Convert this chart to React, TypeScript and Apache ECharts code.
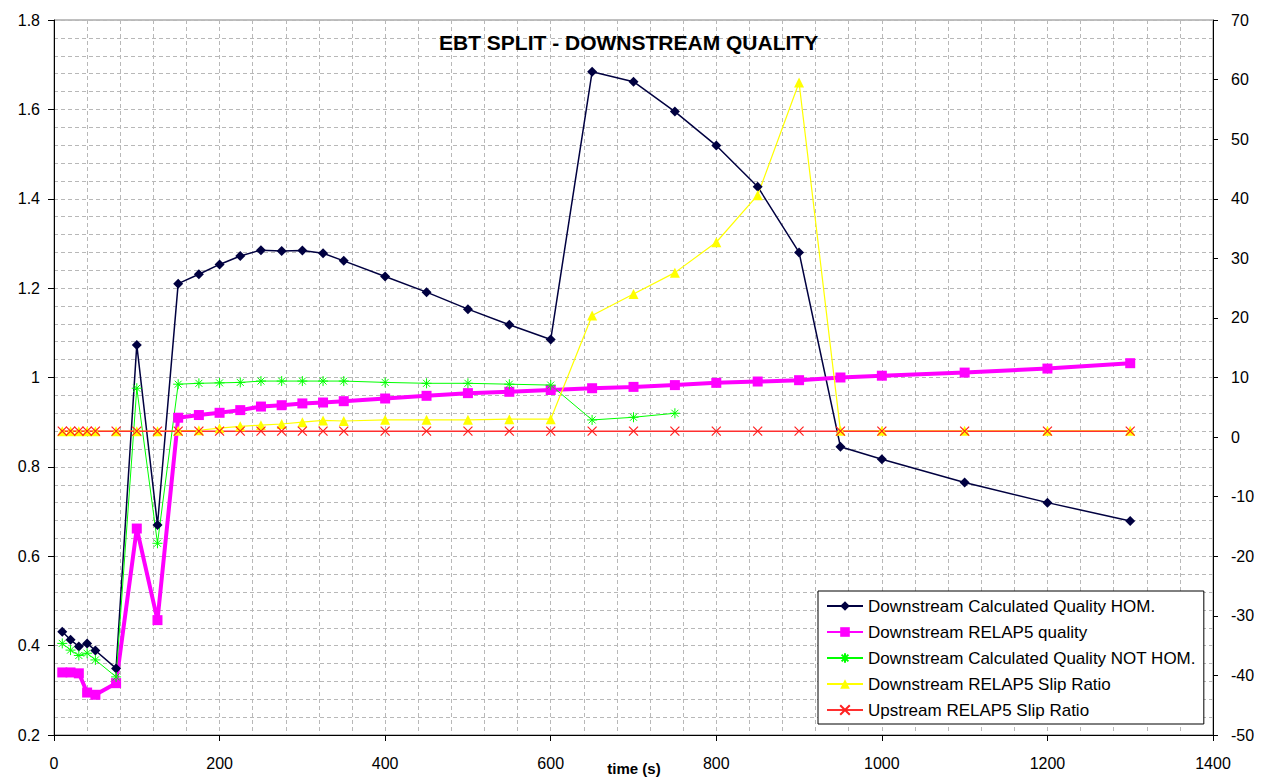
import React, { useEffect, useRef } from "react";
import * as echarts from "echarts";

const titleText = "EBT SPLIT - DOWNSTREAM QUALITY";
const xAxisName = "time (s)";

const timeFull = [10, 20, 30, 40, 50, 75, 100, 125, 150, 175, 200, 225, 250, 275, 300, 325, 350, 400, 450, 500, 550, 600, 650, 700, 750, 800, 850, 900, 950, 1000, 1100, 1200, 1300];
const timeNotHom = [10, 20, 30, 40, 50, 75, 100, 125, 150, 175, 200, 225, 250, 275, 300, 325, 350, 400, 450, 500, 550, 600, 650, 700, 750];

const qualityHom = [0.431, 0.413, 0.398, 0.405, 0.389, 0.349, 1.073, 0.670, 1.210, 1.231, 1.253, 1.272, 1.285, 1.283, 1.284, 1.278, 1.261, 1.226, 1.191, 1.153, 1.118, 1.085, 1.684, 1.662, 1.595, 1.519, 1.427, 1.280, 0.845, 0.817, 0.765, 0.720, 0.679];
const relap5Quality = [0.340, 0.340, 0.338, 0.295, 0.290, 0.316, 0.662, 0.457, 0.910, 0.916, 0.921, 0.927, 0.935, 0.938, 0.942, 0.944, 0.947, 0.953, 0.959, 0.965, 0.968, 0.972, 0.976, 0.979, 0.983, 0.988, 0.991, 0.994, 1.000, 1.004, 1.011, 1.020, 1.032];
const qualityNotHom = [0.405, 0.390, 0.378, 0.383, 0.368, 0.330, 0.976, 0.629, 0.985, 0.987, 0.988, 0.989, 0.992, 0.992, 0.992, 0.992, 0.992, 0.989, 0.987, 0.987, 0.985, 0.983, 0.905, 0.911, 0.920];
const downSlip = [1.0, 1.0, 1.0, 1.0, 1.0, 1.0, 1.0, 1.0, 1.05, 1.15, 1.5, 1.8, 2.0, 2.2, 2.5, 2.8, 2.7, 2.9, 2.9, 2.9, 3.0, 3.0, 20.4, 24.0, 27.6, 32.7, 40.6, 59.5, 1.05, 1.05, 1.05, 1.05, 1.05];
const upSlip = [1.0, 1.0, 1.0, 1.0, 1.0, 1.0, 1.0, 1.0, 1.0, 1.0, 1.0, 1.0, 1.0, 1.0, 1.0, 1.0, 1.0, 1.0, 1.0, 1.0, 1.0, 1.0, 1.0, 1.0, 1.0, 1.0, 1.0, 1.0, 1.0, 1.0, 1.0, 1.0, 1.0];

const seriesNames = [
  "Downstream Calculated Quality HOM.",
  "Downstream RELAP5 quality",
  "Downstream Calculated Quality NOT HOM.",
  "Downstream RELAP5 Slip Ratio",
  "Upstream RELAP5 Slip Ratio",
];

const pair = (xs: number[], ys: number[]) => xs.map((x, i) => [x, ys[i]]);

const FONT = "'Liberation Sans', Arial, sans-serif";
const GRID_COLOR = "#b8b8b8";

export default function App() {
  const ref = useRef<HTMLDivElement>(null);
  useEffect(() => {
    if (!ref.current) return;
    const chart = echarts.init(ref.current, undefined, { renderer: "svg" });
    const dashed = { color: GRID_COLOR, type: [4, 3] as any, width: 1 };
    chart.setOption({
      animation: false,
      backgroundColor: "#ffffff",
      title: {
        text: titleText,
        left: 439,
        top: 32,
        padding: 0,
        textStyle: { fontFamily: FONT, fontSize: 21, fontWeight: "bold", color: "#000" },
      },
      graphic: [
        {
          type: "text",
          x: 634,
          y: 768,
          style: {
            text: xAxisName,
            fontFamily: FONT,
            fontSize: 15,
            fontWeight: "bold",
            fill: "#000",
            align: "center",
            verticalAlign: "middle",
          },
        },
      ],
      grid: {
        left: 54,
        right: 57,
        top: 20,
        bottom: 45,
        containLabel: false,
        outerBoundsMode: "none",
        show: true,
        borderColor: "#808080",
        borderWidth: 1,
        backgroundColor: "transparent",
      },
      legend: {
        orient: "vertical",
        left: 818,
        top: 591,
        padding: [6, 8, 5, 8],
        itemGap: 8,
        itemWidth: 36,
        itemHeight: 12,
        backgroundColor: "#ffffff",
        borderColor: "#000000",
        borderWidth: 1,
        borderRadius: 0,
        textStyle: { fontFamily: FONT, fontSize: 17, color: "#000", lineHeight: 18 },
        data: seriesNames,
      },
      xAxis: {
        type: "value",
        min: 0,
        max: 1400,
        interval: 200,
        axisLine: { show: true, onZero: false, lineStyle: { color: "#000", width: 1 } },
        axisTick: { show: true, length: 6, lineStyle: { color: "#000" } },
        axisLabel: { fontFamily: FONT, fontSize: 16, color: "#000", margin: 20, formatter: (v: number) => String(v) },
        splitLine: { show: true, lineStyle: dashed },
        minorTick: { show: false, splitNumber: 5 },
        minorSplitLine: { show: true, lineStyle: dashed },
      },
      yAxis: [
        {
          type: "value",
          min: 0.2,
          max: 1.8,
          interval: 0.2,
          position: "left",
          axisLine: { show: true, onZero: false, lineStyle: { color: "#000", width: 1 } },
          axisTick: { show: true, length: 6, lineStyle: { color: "#000" } },
          axisLabel: { fontFamily: FONT, fontSize: 16, color: "#000", margin: 14, formatter: (v: number) => String(Math.round(v * 10) / 10) },
          splitLine: { show: true, lineStyle: dashed },
          minorTick: { show: false, splitNumber: 5 },
          minorSplitLine: { show: true, lineStyle: dashed },
        },
        {
          type: "value",
          min: -50,
          max: 70,
          interval: 10,
          position: "right",
          axisLine: { show: true, onZero: false, lineStyle: { color: "#000", width: 1 } },
          axisTick: { show: true, length: 5, lineStyle: { color: "#000" } },
          axisLabel: { fontFamily: FONT, fontSize: 16, color: "#000", margin: 18 },
          splitLine: { show: false },
        },
      ],
      series: [
        {
          name: seriesNames[0],
          type: "line",
          yAxisIndex: 0,
          data: pair(timeFull, qualityHom),
          symbol: "diamond",
          symbolSize: 10,
          lineStyle: { color: "#000040", width: 1.5 },
          itemStyle: { color: "#000040" },
        },
        {
          name: seriesNames[1],
          type: "line",
          yAxisIndex: 0,
          data: pair(timeFull, relap5Quality),
          symbol: "rect",
          symbolSize: 10,
          lineStyle: { color: "#ff00ff", width: 4 },
          itemStyle: { color: "#ff00ff" },
        },
        {
          name: seriesNames[2],
          type: "line",
          yAxisIndex: 0,
          data: pair(timeNotHom, qualityNotHom),
          symbol: "path://M5,0L5,10M0,5L10,5M1.5,1.5L8.5,8.5M8.5,1.5L1.5,8.5",
          symbolSize: 10,
          lineStyle: { color: "#00ff00", width: 1 },
          itemStyle: { color: "#00ff00", borderColor: "#00ff00", borderWidth: 1 },
        },
        {
          name: seriesNames[3],
          type: "line",
          yAxisIndex: 1,
          data: pair(timeFull, downSlip),
          symbol: "triangle",
          symbolSize: 10,
          lineStyle: { color: "#ffff00", width: 1.2 },
          itemStyle: { color: "#ffff00" },
        },
        {
          name: seriesNames[4],
          type: "line",
          yAxisIndex: 1,
          data: pair(timeFull, upSlip),
          symbol: "path://M0,0L10,10M10,0L0,10",
          symbolSize: 9,
          lineStyle: { color: "#ff3030", width: 1.5 },
          itemStyle: { color: "#ff3030", borderColor: "#ff2020", borderWidth: 1.2 },
        },
      ],
    });
    return () => chart.dispose();
  }, []);
  return (
    <div
      ref={ref}
      style={{ position: "absolute", left: 0, top: 0, width: 1270, height: 780, background: "#fff" }}
    />
  );
}
